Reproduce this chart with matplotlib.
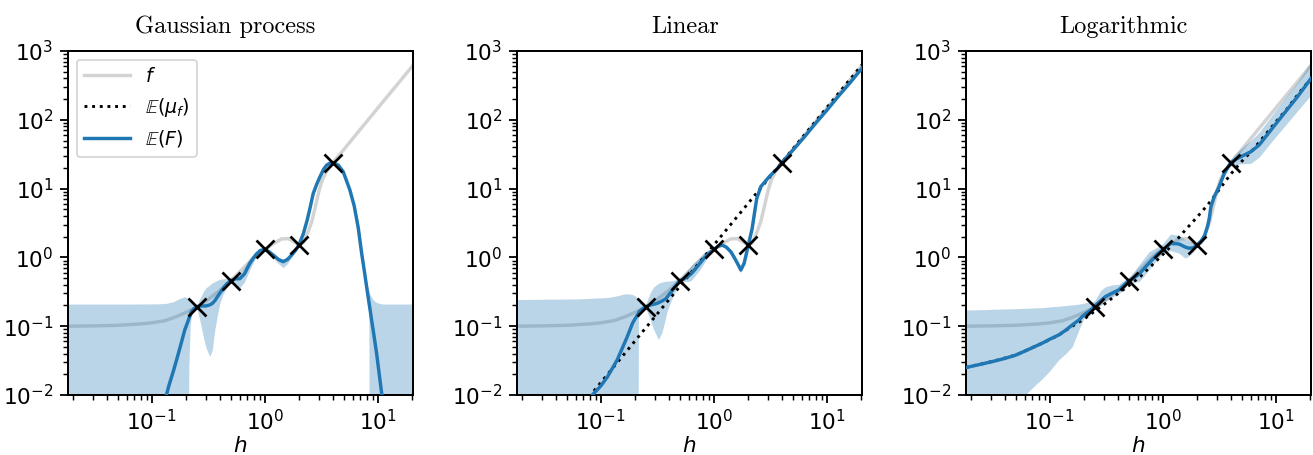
import numpy as np
import matplotlib
matplotlib.use("Agg")
import matplotlib.pyplot as plt

plt.rcParams['font.family'] = ['DejaVu Sans']
plt.rcParams['mathtext.fontset'] = 'dejavusans'

# ---------------- data ----------------
titles = ["Gaussian process", "Linear", "Logarithmic"]

obs_h = [0.25, 0.5, 1.0, 2.0, 4.0]
obs_y = [0.19, 0.46, 1.31, 1.51, 23.8]

# true function f (grey)
f_h = [0.0182, 0.03, 0.05, 0.08, 0.1, 0.13, 0.16, 0.2, 0.25, 0.3, 0.35, 0.4, 0.5, 0.6,
       0.7, 0.8, 0.9, 1.0, 1.2, 1.4, 1.6, 1.8, 2.0, 2.2, 2.4, 2.6, 2.8, 3.0, 3.2, 3.5,
       4.0, 5, 7, 10, 14, 20.42]
f_y = [0.100, 0.101, 0.103, 0.108, 0.112, 0.12, 0.135, 0.158, 0.19, 0.23, 0.28, 0.33,
       0.46, 0.62, 0.80, 1.0, 1.17, 1.31, 1.6, 1.85, 1.88, 1.7, 1.51, 1.65, 2.3, 3.3,
       5.5, 9, 13, 17.5, 23.8, 37, 73, 149, 291, 620]

# panel 1: Gaussian process
gp_h = [0.0182, 0.0631, 0.112, 0.135, 0.141, 0.155, 0.166, 0.178, 0.196, 0.209, 0.213,
        0.219, 0.224, 0.237, 0.25, 0.266, 0.290, 0.303, 0.326, 0.343, 0.361, 0.380, 0.40,
        0.428, 0.458, 0.5, 0.55, 0.60, 0.66, 0.736, 0.794, 0.843, 0.912, 1.0, 1.096,
        1.186, 1.318, 1.452, 1.585, 1.722, 1.862, 2.0, 2.188, 2.371, 2.512, 2.679, 2.884,
        3.069, 3.311, 3.516, 3.758, 4.0, 4.467, 4.932, 5.649, 6.166, 6.699, 7.178, 7.586,
        7.943, 8.222, 8.318, 8.414, 8.790, 9.120, 9.727, 10.42, 10.79, 11.75, 20.42]
gp_mean = [1e-4, 1e-4, 0.00316, 0.01, 0.0132, 0.0219, 0.0324, 0.049, 0.0881, 0.117,
           0.129, 0.145, 0.162, 0.180, 0.192, 0.197, 0.197, 0.197, 0.204, 0.214, 0.234,
           0.266, 0.302, 0.355, 0.407, 0.459, 0.490, 0.490, 0.575, 0.813, 0.977, 1.12,
           1.26, 1.31, 1.20, 1.08, 0.933, 0.867, 0.933, 1.08, 1.26, 1.51, 2.19, 3.50,
           5.25, 8.51, 11.7, 14.8, 19.1, 21.9, 23.4, 23.8, 21.9, 17.6, 9.55, 5.62, 2.69,
           1.15, 0.631, 0.375, 0.257, 0.224, 0.200, 0.123, 0.0832, 0.0407, 0.0166,
           0.0106, 0.00398, 1e-4]
gp_lower = [1e-4, 1e-4, 1e-4, 1e-4, 1e-4, 1e-4, 1e-4, 1e-4, 1e-4, 1e-4,
            0.0251, 0.1, 0.141, 0.174, 0.188, 0.123, 0.0631, 0.0479, 0.0363, 0.0447,
            0.0881, 0.141, 0.215, 0.295, 0.355, 0.437, 0.407, 0.363, 0.437, 0.661,
            0.851, 1.05, 1.20, 1.27, 1.15, 1.0, 0.813, 0.708, 0.813, 1.0, 1.20, 1.46,
            2.09, 3.31, 5.01, 8.13, 11.2, 14.1, 18.2, 20.9, 22.6, 23.2, 20.9, 16.6,
            8.91, 5.13, 2.40, 1.0, 0.537, 0.316, 0.209, 0.126,
            1e-4, 1e-4, 1e-4, 1e-4, 1e-4, 1e-4, 1e-4, 1e-4]
gp_upper = [0.210, 0.210, 0.211, 0.215, 0.219, 0.227, 0.240, 0.254, 0.269, 0.257,
            0.251, 0.234, 0.219, 0.200, 0.197, 0.251, 0.331, 0.363, 0.398, 0.427,
            0.444, 0.468, 0.479, 0.490, 0.490, 0.479, 0.537, 0.589, 0.724, 0.977,
            1.12, 1.23, 1.32, 1.35, 1.26, 1.16, 1.0, 0.944, 1.0, 1.15, 1.32, 1.57,
            2.29, 3.67, 5.50, 8.91, 12.3, 15.5, 20.0, 22.9, 24.3, 24.4, 22.9, 18.6,
            10.2, 6.17, 2.95, 1.29, 0.724, 0.437, 0.347, 0.324, 0.302, 0.263, 0.240,
            0.221, 0.214, 0.211, 0.210, 0.210]

# panel 2: Linear
lin_h = [0.0182, 0.0631, 0.0759, 0.0843, 0.1, 0.115, 0.126, 0.140, 0.158, 0.171, 0.191,
         0.2, 0.213, 0.215, 0.218, 0.234, 0.25, 0.277, 0.296, 0.316, 0.327, 0.351, 0.376,
         0.389, 0.416, 0.447, 0.476, 0.5, 0.55, 0.625, 0.670, 0.767, 0.822, 0.912, 1.0,
         1.096, 1.186, 1.288, 1.413, 1.514, 1.618, 1.734, 1.854, 2.0, 2.183, 2.291, 2.399,
         2.606, 3.090, 3.656, 4.0, 5.012, 6.310, 7.943, 10.0, 12.59, 15.85, 20.42]
lin_mean = [1e-4, 0.00562, 0.00794, 0.01, 0.0135, 0.0185, 0.024, 0.0324, 0.0513, 0.0692,
            0.110, 0.126, 0.148, 0.151, 0.162, 0.178, 0.192, 0.204, 0.209, 0.215, 0.221,
            0.234, 0.251, 0.269, 0.309, 0.363, 0.417, 0.459, 0.490, 0.569, 0.646, 0.851,
            0.977, 1.15, 1.31, 1.45, 1.51, 1.41, 1.21, 1.0, 0.820, 0.656, 0.820, 1.41,
            2.63, 4.47, 7.24, 10.7, 14.9, 19.7, 23.8, 36.3, 56.2, 89.1, 138, 219, 339, 562]
lin_lower = [1e-4, 1e-4, 1e-4, 1e-4, 1e-4, 1e-4, 1e-4, 1e-4, 1e-4, 1e-4, 1e-4, 1e-4,
             1e-4, 1e-4, 0.126, 0.170, 0.186, 0.123, 0.0891, 0.0708, 0.0631, 0.0794,
             0.123, 0.158, 0.215, 0.282, 0.355, 0.437, 0.437, 0.444, 0.501, 0.661, 0.794,
             1.05, 1.27, 1.38, 1.43, 1.32, 1.12, 0.912, 0.741, 0.589, 0.741, 1.35, 2.51,
             4.27, 6.92, 10.2, 14.3, 19.1, 23.2, 35.1, 54.3, 86.1, 133, 211, 327, 543]
lin_upper = [0.240, 0.245, 0.248, 0.251, 0.254, 0.257, 0.263, 0.272, 0.285, 0.292, 0.285,
             0.275, 0.257, 0.251, 0.245, 0.214, 0.197, 0.302, 0.363, 0.398, 0.412, 0.432,
             0.442, 0.444, 0.447, 0.457, 0.468, 0.479, 0.562, 0.724, 0.820, 1.0, 1.15,
             1.26, 1.35, 1.51, 1.58, 1.51, 1.30, 1.10, 0.891, 0.724, 0.891, 1.48, 2.75,
             4.68, 7.59, 11.2, 15.5, 20.4, 24.4, 37.6, 58.2, 92.3, 143, 226, 351, 582]
lin_mu_h = [0.0182, 0.1, 1.0, 10.0, 20.42]
lin_mu_y = [0.000501, 0.0151, 1.51, 151, 631]

# panel 3: Logarithmic
log_h = [0.0182, 0.0251, 0.0309, 0.0398, 0.0501, 0.0608, 0.0708, 0.0851, 0.1, 0.120,
         0.138, 0.158, 0.181, 0.193, 0.207, 0.224, 0.240, 0.25, 0.282, 0.311, 0.355,
         0.408, 0.457, 0.5, 0.550, 0.614, 0.676, 0.752, 0.891, 1.0, 1.17, 1.387, 1.585,
         1.698, 1.862, 2.0, 2.188, 2.344, 2.483, 2.570, 2.661, 2.844, 3.148, 3.491,
         3.864, 4.0, 4.467, 4.898, 6.012, 7.112, 9.036, 11.83, 15.52, 20.42]
log_mean = [0.0251, 0.0282, 0.0305, 0.0339, 0.0380, 0.0437, 0.0490, 0.0562, 0.0646,
            0.0745, 0.0871, 0.104, 0.123, 0.137, 0.151, 0.166, 0.182, 0.197, 0.234,
            0.269, 0.302, 0.336, 0.398, 0.459, 0.501, 0.569, 0.676, 0.820, 1.10, 1.28,
            1.60, 1.57, 1.41, 1.36, 1.38, 1.51, 1.74, 2.09, 2.82, 3.63, 5.46, 7.62,
            10.7, 16.6, 22.0, 23.8, 26.9, 29.1, 34.4, 43.1, 71.1, 124, 217, 398]
log_lower = [0.001, 0.002, 0.00316, 0.00501, 0.00708, 0.01, 0.0129, 0.017, 0.0224,
             0.0324, 0.0398, 0.0501, 0.0881, 0.112, 0.146, 0.166, 0.178, 0.182, 0.2,
             0.229, 0.263, 0.295, 0.347, 0.427, 0.437, 0.444, 0.525, 0.661, 0.933, 1.15,
             1.26, 1.15, 0.970, 1.05, 1.20, 1.41, 1.58, 1.91, 2.51, 3.24, 4.90, 6.92,
             9.77, 15.1, 20.0, 21.4, 22.4, 22.9, 23.3, 28.8, 46.8, 79.4, 135, 229]
log_upper = [0.172, 0.174, 0.176, 0.178, 0.180, 0.182, 0.184, 0.186, 0.191, 0.195, 0.2,
             0.204, 0.209, 0.214, 0.219, 0.224, 0.229, 0.234, 0.331, 0.375, 0.398, 0.407,
             0.468, 0.501, 0.603, 0.776, 0.955, 1.20, 1.41, 1.58, 2.19, 2.09, 1.79, 1.70,
             1.66, 1.66, 1.91, 2.29, 3.16, 4.07, 6.17, 8.51, 12.0, 18.6, 25.1, 26.9, 33.1,
             38.0, 50.1, 66.1, 112, 200, 355, 700]
log_mu_h = [0.0182, 0.0316, 0.0501, 0.0851, 0.120, 0.158, 0.2, 0.251, 0.316, 0.398,
            0.501, 0.631, 0.794, 1.0, 1.259, 1.585, 1.995, 2.512, 3.162, 3.981, 5.012,
            6.310, 7.943, 10.0, 12.59, 15.85, 20.42]
log_mu_y = [0.0251, 0.0309, 0.0380, 0.0562, 0.0741, 0.1, 0.126, 0.166, 0.219, 0.295,
            0.389, 0.525, 0.759, 1.10, 1.62, 2.51, 3.80, 5.89, 9.77, 16.2, 25.1, 37.2,
            58.9, 93.3, 145, 240, 398]

panels = [
    dict(h=gp_h, mean=gp_mean, lo=gp_lower, hi=gp_upper, mu_h=None, mu_y=None),
    dict(h=lin_h, mean=lin_mean, lo=lin_lower, hi=lin_upper, mu_h=lin_mu_h, mu_y=lin_mu_y),
    dict(h=log_h, mean=log_mean, lo=log_lower, hi=log_upper, mu_h=log_mu_h, mu_y=log_mu_y),
]

# ---------------- figure ----------------
W, H, DPI = 1313, 455, 130
fig = plt.figure(figsize=(W / DPI, H / DPI), dpi=DPI)
lefts = [68, 517, 966]
title_x = [0.455, 0.488, 0.457]
blue = '#1f77b4'

for i, (left, p) in enumerate(zip(lefts, panels)):
    ax = fig.add_axes([left / W, 60 / H, 345 / W, 344 / H])
    ax.set_xscale('log')
    ax.set_yscale('log')
    ax.plot(f_h, f_y, color='#d3d3d3', lw=1.9, label='$f$', zorder=1)
    ax.fill_between(p['h'], p['lo'], p['hi'], color=blue, alpha=0.3, lw=0, zorder=2)
    if p['mu_h'] is not None:
        ax.plot(p['mu_h'], p['mu_y'], color='black', ls=':', lw=1.6, zorder=3)
    else:
        ax.plot([], [], color='black', ls=':', lw=1.6)
    ax.plot(p['h'], p['mean'], color=blue, lw=1.9, zorder=4)
    ax.plot(obs_h, obs_y, ls='none', marker='x', color='black', ms=10, mew=1.5, zorder=5)
    ax.set_xlim(0.0182, 20.42)
    ax.set_ylim(1e-2, 1e3)
    ax.set_xlabel('$h$', fontsize=12, labelpad=1)
    ax.set_title(titles[i], fontfamily='cmr10', fontsize=13.5, pad=10, x=title_x[i])
    for s in ax.spines.values():
        s.set_linewidth(1.1)
    ax.tick_params(which='major', labelsize=12, length=4.5, width=1.0)
    ax.tick_params(which='minor', length=2.5, width=0.8)
    if i == 0:
        handles = ax.get_lines()[:3]
        ax.legend(handles, ['$f$', r'$\mathbb{E}(\mu_f)$', r'$\mathbb{E}(F)$'],
                  loc='upper left', handlelength=2.4, fontsize=10.5,
                  borderaxespad=0.45, labelspacing=0.5)

fig.savefig('out.png', dpi=DPI)
